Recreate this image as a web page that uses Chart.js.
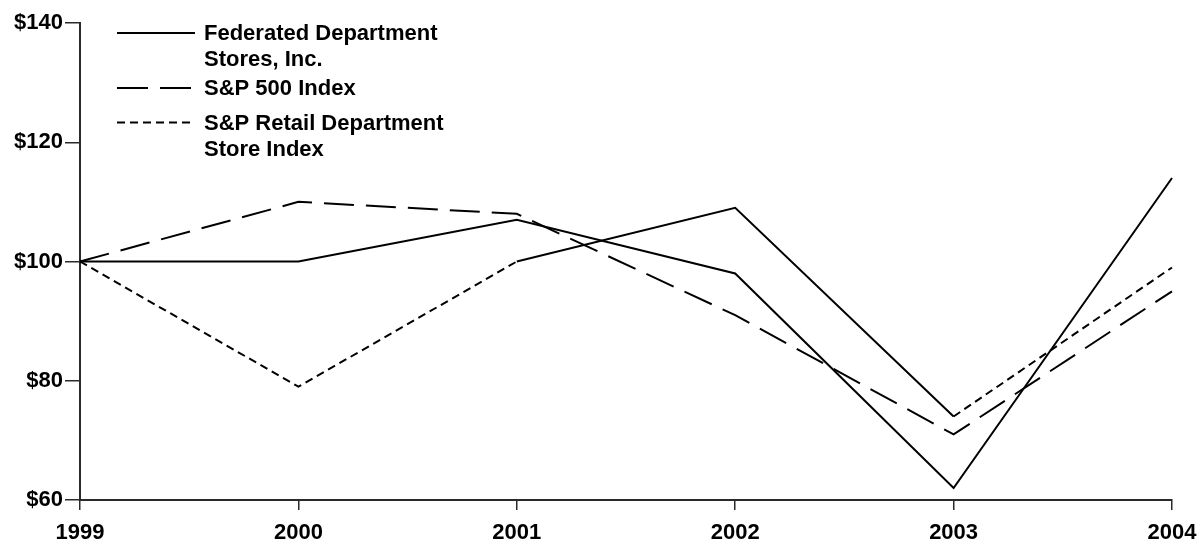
<!DOCTYPE html>
<html>
<head>
<meta charset="utf-8">
<script src="https://cdn.jsdelivr.net/npm/chart.js@4/dist/chart.umd.min.js"></script>
<style>
  html, body { margin: 0; padding: 0; background: #ffffff; }
  #wrap { width: 1201px; height: 544px; position: relative; }
</style>
</head>
<body>
<div id="wrap"><canvas id="c" width="1201" height="544"></canvas></div>
<script>
const years = ['1999', '2000', '2001', '2002', '2003', '2004'];
const federated = [100, 100, 107, 98, 62, 114];
const sp500 = [100, 110, 108, 91, 71, 95];
const spRetail = [100, 79, 100, 109, 74, 99];
const yTickValues = [60, 80, 100, 120, 140];
const yTickLabels = ['$60', '$80', '$100', '$120', '$140'];
const legendLabels = [
  ['Federated Department', 'Stores, Inc.'],
  ['S&P 500 Index'],
  ['S&P Retail Department', 'Store Index']
];

const FONT = "'Liberation Sans', Arial, sans-serif";
const AXIS_COLOR = '#2a2a2a';
const LONG_DASH = [30, 12];
const SHORT_DASH = [8, 5];

const legendPlugin = {
  id: 'insideLegend',
  afterDatasetsDraw(chart) {
    const ctx = chart.ctx;
    const rows = [33, 88, 122.5];
    const lineH = 26;
    ctx.save();
    ctx.font = 'bold 22px ' + FONT;
    ctx.textBaseline = 'middle';
    ctx.fillStyle = '#000';
    chart.data.datasets.forEach((ds, i) => {
      const y = rows[i];
      ctx.beginPath();
      ctx.setLineDash(ds.legendDash || []);
      ctx.lineWidth = 1.8;
      ctx.strokeStyle = '#000';
      ctx.moveTo(117, y);
      ctx.lineTo(195, y);
      ctx.stroke();
      ctx.setLineDash([]);
      legendLabels[i].forEach((t, k) => {
        ctx.fillText(t, 204, y + 1 + k * lineH);
      });
    });
    ctx.restore();
  }
};

new Chart(document.getElementById('c'), {
  type: 'line',
  data: {
    labels: years,
    datasets: [
      {
        label: legendLabels[0].join(' '),
        data: federated,
        borderColor: '#000',
        borderWidth: 2,
        pointRadius: 0,
        tension: 0,
        legendDash: []
      },
      {
        label: legendLabels[1].join(' '),
        data: sp500,
        borderColor: '#000',
        borderWidth: 2,
        pointRadius: 0,
        tension: 0,
        borderDash: LONG_DASH,
        legendDash: [31, 12]
      },
      {
        label: legendLabels[2].join(' '),
        data: spRetail,
        borderColor: '#000',
        borderWidth: 2,
        pointRadius: 0,
        tension: 0,
        borderDash: SHORT_DASH,
        legendDash: [8, 5],
        segment: {
          borderDash: c => (c.p0DataIndex === 2 || c.p0DataIndex === 3) ? [] : SHORT_DASH
        }
      }
    ]
  },
  options: {
    responsive: false,
    animation: false,
    devicePixelRatio: 1,
    layout: { padding: { top: 23, right: 29, bottom: 0, left: 0 } },
    plugins: {
      legend: { display: false },
      tooltip: { enabled: false }
    },
    scales: {
      x: {
        type: 'category',
        offset: false,
        grid: {
          offset: false,
          drawOnChartArea: false,
          drawTicks: true,
          tickLength: 10,
          color: AXIS_COLOR,
          lineWidth: 1.5
        },
        border: { display: true, color: AXIS_COLOR, width: 2 },
        ticks: {
          color: '#000',
          font: { family: FONT, size: 22, weight: 'bold' },
          padding: 10,
          maxRotation: 0,
          autoSkip: false
        },
        afterFit(scale) {
          scale.height = 44;
          scale.paddingLeft = 0;
          scale.paddingRight = 0;
        }
      },
      y: {
        min: 60,
        max: 140,
        afterBuildTicks(scale) {
          scale.ticks = yTickValues.map(v => ({ value: v }));
        },
        grid: {
          drawOnChartArea: false,
          drawTicks: true,
          tickLength: 15,
          color: AXIS_COLOR,
          lineWidth: 1.5
        },
        border: { display: true, color: AXIS_COLOR, width: 2 },
        ticks: {
          color: '#000',
          font: { family: FONT, size: 22, weight: 'bold' },
          padding: 2,
          callback: (v, i) => yTickLabels[yTickValues.indexOf(v)]
        },
        afterFit(scale) { scale.width = 80; }
      }
    }
  },
  plugins: [legendPlugin]
});
</script>
</body>
</html>
